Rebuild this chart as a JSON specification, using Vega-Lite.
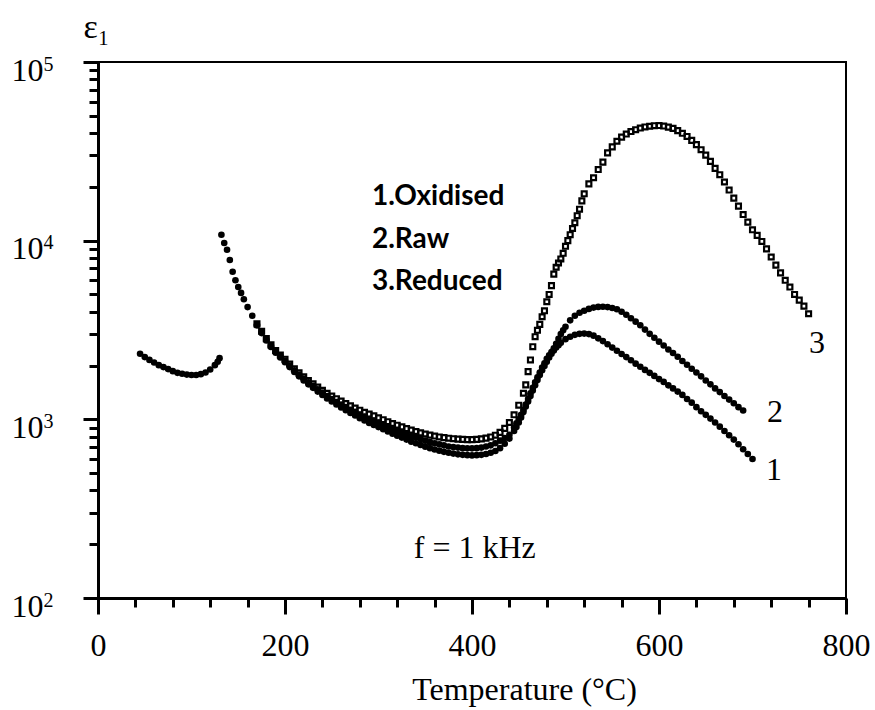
{
  "$schema": "https://vega.github.io/schema/vega-lite/v6.json",
  "width": 748,
  "height": 536,
  "autosize": {"type": "none"},
  "padding": {"left": 98, "top": 62, "right": 29, "bottom": 112},
  "background": "white",
  "config": {
    "view": {"stroke": "black", "strokeWidth": 2},
    "axis": {"grid": false, "domainColor": "black", "tickColor": "black", "labelColor": "black", "titleColor": "black"}
  },
  "datasets": {
    "pts": [
      {"s":2,"t":45,"e":2330},{"s":2,"t":50,"e":2230},{"s":2,"t":55,"e":2150},{"s":2,"t":60,"e":2080},{"s":2,"t":65,"e":2010},{"s":2,"t":70,"e":1960},{"s":2,"t":75,"e":1910},{"s":2,"t":80,"e":1860},{"s":2,"t":85,"e":1820},{"s":2,"t":90,"e":1800},{"s":2,"t":95,"e":1780},{"s":2,"t":100,"e":1770},{"s":2,"t":105,"e":1770},{"s":2,"t":110,"e":1790},{"s":2,"t":115,"e":1830},{"s":2,"t":120,"e":1900},{"s":2,"t":125,"e":2010},{"s":2,"t":128,"e":2100},{"s":2,"t":130,"e":2200},
      {"s":2,"t":132,"e":10800},{"s":2,"t":135,"e":9700},{"s":2,"t":138,"e":8900},{"s":2,"t":141,"e":7800},{"s":2,"t":144,"e":6700},{"s":2,"t":147,"e":6000},{"s":2,"t":150,"e":5500},{"s":2,"t":153,"e":5100},{"s":2,"t":156,"e":4700},{"s":2,"t":160,"e":4250},{"s":2,"t":165,"e":3800},{"s":2,"t":170,"e":3400},{"s":2,"t":175,"e":3080},{"s":2,"t":180,"e":2800},{"s":2,"t":185,"e":2580},{"s":2,"t":190,"e":2400},{"s":2,"t":195,"e":2260},
      {"s":2,"t":200,"e":2130},{"s":2,"t":205,"e":2000},{"s":2,"t":210,"e":1880},{"s":2,"t":215,"e":1780},{"s":2,"t":220,"e":1690},{"s":2,"t":225,"e":1610},{"s":2,"t":230,"e":1540},{"s":2,"t":235,"e":1470},{"s":2,"t":240,"e":1410},{"s":2,"t":245,"e":1350},{"s":2,"t":250,"e":1300},{"s":2,"t":255,"e":1250},{"s":2,"t":260,"e":1210},{"s":2,"t":265,"e":1170},{"s":2,"t":270,"e":1130},{"s":2,"t":275,"e":1100},{"s":2,"t":280,"e":1065},{"s":2,"t":285,"e":1035},{"s":2,"t":290,"e":1005},{"s":2,"t":295,"e":980},{"s":2,"t":300,"e":955},{"s":2,"t":305,"e":930},{"s":2,"t":310,"e":905},{"s":2,"t":315,"e":885},{"s":2,"t":320,"e":865},{"s":2,"t":325,"e":845},{"s":2,"t":330,"e":825},{"s":2,"t":335,"e":805},{"s":2,"t":340,"e":790},{"s":2,"t":345,"e":775},{"s":2,"t":350,"e":760},{"s":2,"t":355,"e":745},{"s":2,"t":360,"e":735},{"s":2,"t":365,"e":725},{"s":2,"t":370,"e":715},{"s":2,"t":375,"e":705},{"s":2,"t":380,"e":700},{"s":2,"t":385,"e":695},{"s":2,"t":390,"e":690},{"s":2,"t":395,"e":688},{"s":2,"t":400,"e":688},{"s":2,"t":405,"e":690},{"s":2,"t":410,"e":695},{"s":2,"t":415,"e":705},{"s":2,"t":420,"e":715},{"s":2,"t":425,"e":735},{"s":2,"t":430,"e":760},{"s":2,"t":435,"e":785},{"s":2,"t":440,"e":820},{"s":2,"t":445,"e":900},{"s":2,"t":447.5,"e":950},{"s":2,"t":450,"e":1000},{"s":2,"t":452.5,"e":1060},{"s":2,"t":455,"e":1130},{"s":2,"t":457.5,"e":1210},{"s":2,"t":460,"e":1300},{"s":2,"t":462.5,"e":1400},{"s":2,"t":465,"e":1500},{"s":2,"t":467.5,"e":1610},{"s":2,"t":470,"e":1720},{"s":2,"t":472.5,"e":1830},{"s":2,"t":475,"e":1950},{"s":2,"t":477.5,"e":2060},{"s":2,"t":480,"e":2180},{"s":2,"t":482.5,"e":2280},{"s":2,"t":485,"e":2380},{"s":2,"t":487.5,"e":2500},{"s":2,"t":490,"e":2650},{"s":2,"t":492.5,"e":2820},{"s":2,"t":495,"e":3000},{"s":2,"t":497.5,"e":3150},{"s":2,"t":500,"e":3300},{"s":2,"t":505,"e":3580},{"s":2,"t":510,"e":3800},{"s":2,"t":515,"e":3950},{"s":2,"t":520,"e":4050},{"s":2,"t":525,"e":4150},{"s":2,"t":530,"e":4220},{"s":2,"t":535,"e":4260},{"s":2,"t":540,"e":4270},{"s":2,"t":545,"e":4250},{"s":2,"t":550,"e":4200},{"s":2,"t":555,"e":4130},{"s":2,"t":560,"e":4000},{"s":2,"t":565,"e":3850},{"s":2,"t":570,"e":3680},{"s":2,"t":575,"e":3520},{"s":2,"t":580,"e":3360},{"s":2,"t":585,"e":3180},{"s":2,"t":590,"e":3010},{"s":2,"t":595,"e":2860},{"s":2,"t":600,"e":2720},{"s":2,"t":605,"e":2590},{"s":2,"t":610,"e":2460},{"s":2,"t":615,"e":2350},{"s":2,"t":620,"e":2240},{"s":2,"t":625,"e":2120},{"s":2,"t":630,"e":2020},{"s":2,"t":635,"e":1920},{"s":2,"t":640,"e":1830},{"s":2,"t":645,"e":1740},{"s":2,"t":650,"e":1650},{"s":2,"t":655,"e":1570},{"s":2,"t":660,"e":1490},{"s":2,"t":665,"e":1420},{"s":2,"t":670,"e":1350},{"s":2,"t":675,"e":1290},{"s":2,"t":680,"e":1230},{"s":2,"t":685,"e":1170},{"s":2,"t":690,"e":1120},
      {"s":1,"t":170,"e":3350},{"s":1,"t":175,"e":3040},{"s":1,"t":180,"e":2760},{"s":1,"t":185,"e":2540},{"s":1,"t":190,"e":2360},{"s":1,"t":195,"e":2220},{"s":1,"t":200,"e":2090},{"s":1,"t":205,"e":1960},{"s":1,"t":210,"e":1840},{"s":1,"t":215,"e":1740},{"s":1,"t":220,"e":1650},{"s":1,"t":225,"e":1570},{"s":1,"t":230,"e":1500},{"s":1,"t":235,"e":1430},{"s":1,"t":240,"e":1370},{"s":1,"t":245,"e":1310},{"s":1,"t":250,"e":1260},{"s":1,"t":255,"e":1210},{"s":1,"t":260,"e":1165},{"s":1,"t":265,"e":1125},{"s":1,"t":270,"e":1085},{"s":1,"t":275,"e":1050},{"s":1,"t":280,"e":1015},{"s":1,"t":285,"e":985},{"s":1,"t":290,"e":955},{"s":1,"t":295,"e":930},{"s":1,"t":300,"e":905},{"s":1,"t":305,"e":880},{"s":1,"t":310,"e":855},{"s":1,"t":315,"e":830},{"s":1,"t":320,"e":810},{"s":1,"t":325,"e":790},{"s":1,"t":330,"e":770},{"s":1,"t":335,"e":750},{"s":1,"t":340,"e":735},{"s":1,"t":345,"e":718},{"s":1,"t":350,"e":703},{"s":1,"t":355,"e":690},{"s":1,"t":360,"e":678},{"s":1,"t":365,"e":668},{"s":1,"t":370,"e":658},{"s":1,"t":375,"e":650},{"s":1,"t":380,"e":643},{"s":1,"t":385,"e":637},{"s":1,"t":390,"e":633},{"s":1,"t":395,"e":630},{"s":1,"t":400,"e":628},{"s":1,"t":405,"e":630},{"s":1,"t":410,"e":633},{"s":1,"t":415,"e":640},{"s":1,"t":420,"e":650},{"s":1,"t":425,"e":665},{"s":1,"t":430,"e":690},{"s":1,"t":435,"e":730},{"s":1,"t":440,"e":780},{"s":1,"t":445,"e":860},{"s":1,"t":447.5,"e":905},{"s":1,"t":450,"e":960},{"s":1,"t":452.5,"e":1025},{"s":1,"t":455,"e":1100},{"s":1,"t":457.5,"e":1180},{"s":1,"t":460,"e":1260},{"s":1,"t":462.5,"e":1350},{"s":1,"t":465,"e":1450},{"s":1,"t":467.5,"e":1550},{"s":1,"t":470,"e":1660},{"s":1,"t":472.5,"e":1770},{"s":1,"t":475,"e":1880},{"s":1,"t":477.5,"e":1990},{"s":1,"t":480,"e":2100},{"s":1,"t":482.5,"e":2220},{"s":1,"t":485,"e":2330},{"s":1,"t":487.5,"e":2430},{"s":1,"t":490,"e":2520},{"s":1,"t":492.5,"e":2600},{"s":1,"t":495,"e":2680},{"s":1,"t":500,"e":2810},{"s":1,"t":505,"e":2900},{"s":1,"t":510,"e":2970},{"s":1,"t":515,"e":3010},{"s":1,"t":520,"e":3020},{"s":1,"t":525,"e":3000},{"s":1,"t":530,"e":2940},{"s":1,"t":535,"e":2840},{"s":1,"t":540,"e":2740},{"s":1,"t":545,"e":2630},{"s":1,"t":550,"e":2520},{"s":1,"t":555,"e":2420},{"s":1,"t":560,"e":2320},{"s":1,"t":565,"e":2230},{"s":1,"t":570,"e":2140},{"s":1,"t":575,"e":2050},{"s":1,"t":580,"e":1970},{"s":1,"t":585,"e":1890},{"s":1,"t":590,"e":1820},{"s":1,"t":595,"e":1750},{"s":1,"t":600,"e":1680},{"s":1,"t":605,"e":1620},{"s":1,"t":610,"e":1550},{"s":1,"t":615,"e":1490},{"s":1,"t":620,"e":1430},{"s":1,"t":625,"e":1370},{"s":1,"t":630,"e":1300},{"s":1,"t":635,"e":1240},{"s":1,"t":640,"e":1170},{"s":1,"t":645,"e":1110},{"s":1,"t":650,"e":1060},{"s":1,"t":655,"e":1010},{"s":1,"t":660,"e":960},{"s":1,"t":665,"e":910},{"s":1,"t":670,"e":860},{"s":1,"t":675,"e":815},{"s":1,"t":680,"e":770},{"s":1,"t":685,"e":725},{"s":1,"t":690,"e":680},{"s":1,"t":695,"e":640},{"s":1,"t":700,"e":600},
      {"s":3,"t":170,"e":3420},{"s":3,"t":175,"e":3110},{"s":3,"t":180,"e":2830},{"s":3,"t":185,"e":2610},{"s":3,"t":190,"e":2430},{"s":3,"t":195,"e":2290},{"s":3,"t":200,"e":2170},{"s":3,"t":205,"e":2040},{"s":3,"t":210,"e":1920},{"s":3,"t":215,"e":1820},{"s":3,"t":220,"e":1730},{"s":3,"t":225,"e":1650},{"s":3,"t":230,"e":1580},{"s":3,"t":235,"e":1515},{"s":3,"t":240,"e":1455},{"s":3,"t":245,"e":1400},{"s":3,"t":250,"e":1350},{"s":3,"t":255,"e":1305},{"s":3,"t":260,"e":1265},{"s":3,"t":265,"e":1225},{"s":3,"t":270,"e":1190},{"s":3,"t":275,"e":1155},{"s":3,"t":280,"e":1125},{"s":3,"t":285,"e":1095},{"s":3,"t":290,"e":1070},{"s":3,"t":295,"e":1045},{"s":3,"t":300,"e":1020},{"s":3,"t":305,"e":995},{"s":3,"t":310,"e":970},{"s":3,"t":315,"e":948},{"s":3,"t":320,"e":927},{"s":3,"t":325,"e":907},{"s":3,"t":330,"e":888},{"s":3,"t":335,"e":870},{"s":3,"t":340,"e":855},{"s":3,"t":345,"e":840},{"s":3,"t":350,"e":828},{"s":3,"t":355,"e":816},{"s":3,"t":360,"e":806},{"s":3,"t":365,"e":797},{"s":3,"t":370,"e":790},{"s":3,"t":375,"e":784},{"s":3,"t":380,"e":779},{"s":3,"t":385,"e":775},{"s":3,"t":390,"e":772},{"s":3,"t":395,"e":770},{"s":3,"t":400,"e":770},{"s":3,"t":405,"e":772},{"s":3,"t":410,"e":777},{"s":3,"t":415,"e":785},{"s":3,"t":420,"e":797},{"s":3,"t":425,"e":815},{"s":3,"t":430,"e":845},{"s":3,"t":435,"e":890},{"s":3,"t":440,"e":960},{"s":3,"t":445,"e":1060},{"s":3,"t":450,"e":1200},{"s":3,"t":455,"e":1400},{"s":3,"t":457.5,"e":1560},{"s":3,"t":460,"e":1850},{"s":3,"t":462.5,"e":2150},{"s":3,"t":465,"e":2550},{"s":3,"t":467.5,"e":2900},{"s":3,"t":470,"e":3150},{"s":3,"t":472.5,"e":3400},{"s":3,"t":475,"e":3750},{"s":3,"t":477.5,"e":4050},{"s":3,"t":480,"e":4550},{"s":3,"t":482.5,"e":5000},{"s":3,"t":485,"e":5600},{"s":3,"t":487.5,"e":6500},{"s":3,"t":490,"e":7100},{"s":3,"t":492.5,"e":7500},{"s":3,"t":495,"e":7900},{"s":3,"t":497.5,"e":8500},{"s":3,"t":500,"e":9300},{"s":3,"t":502.5,"e":10000},{"s":3,"t":505,"e":10800},{"s":3,"t":507.5,"e":11700},{"s":3,"t":510,"e":12600},{"s":3,"t":512.5,"e":13800},{"s":3,"t":515,"e":15000},{"s":3,"t":517.5,"e":16700},{"s":3,"t":520,"e":18300},{"s":3,"t":525,"e":20800},{"s":3,"t":530,"e":22500},{"s":3,"t":535,"e":25000},{"s":3,"t":540,"e":27500},{"s":3,"t":545,"e":31000},{"s":3,"t":550,"e":33500},{"s":3,"t":555,"e":36000},{"s":3,"t":560,"e":38000},{"s":3,"t":565,"e":39500},{"s":3,"t":570,"e":40800},{"s":3,"t":575,"e":41800},{"s":3,"t":580,"e":42700},{"s":3,"t":585,"e":43300},{"s":3,"t":590,"e":43700},{"s":3,"t":595,"e":44000},{"s":3,"t":600,"e":44100},{"s":3,"t":605,"e":43800},{"s":3,"t":610,"e":43200},{"s":3,"t":615,"e":42500},{"s":3,"t":620,"e":41300},{"s":3,"t":625,"e":39900},{"s":3,"t":630,"e":38300},{"s":3,"t":635,"e":36400},{"s":3,"t":640,"e":34500},{"s":3,"t":645,"e":32300},{"s":3,"t":650,"e":30100},{"s":3,"t":655,"e":27800},{"s":3,"t":660,"e":25400},{"s":3,"t":665,"e":23400},{"s":3,"t":670,"e":21300},{"s":3,"t":675,"e":19200},{"s":3,"t":680,"e":17300},{"s":3,"t":685,"e":15600},{"s":3,"t":690,"e":14000},{"s":3,"t":695,"e":12700},{"s":3,"t":700,"e":11500},{"s":3,"t":705,"e":10700},{"s":3,"t":710,"e":9900},{"s":3,"t":715,"e":9000},{"s":3,"t":720,"e":8100},{"s":3,"t":725,"e":7300},{"s":3,"t":730,"e":6600},{"s":3,"t":735,"e":6000},{"s":3,"t":740,"e":5500},{"s":3,"t":745,"e":5000},{"s":3,"t":750,"e":4650},{"s":3,"t":755,"e":4300},{"s":3,"t":760,"e":3900}
    ],
    "legend": [
      {"t": 293, "e": 15830, "txt": "1.Oxidised"},
      {"t": 293, "e": 9100, "txt": "2.Raw"},
      {"t": 293, "e": 5297, "txt": "3.Reduced"}
    ],
    "notes": [
      {"t": 769, "e": 2350, "txt": "3"},
      {"t": 724, "e": 966, "txt": "2"},
      {"t": 723, "e": 458, "txt": "1"},
      {"t": 403, "e": 167.5, "txt": "f = 1 kHz"}
    ]
  },
  "resolve": {"axis": {"x": "independent", "y": "independent"}},
  "layer": [
    {
      "data": {"name": "pts"},
      "transform": [{"filter": "datum.s != 3"}],
      "mark": {"type": "point", "shape": "circle", "filled": true, "color": "black", "size": 44, "opacity": 1},
      "encoding": {
        "x": {"field": "t", "type": "quantitative", "scale": {"domain": [0, 800], "nice": false, "zero": false},
          "axis": {"orient": "bottom", "values": [0, 200, 400, 600, 800], "format": "d", "tickSize": 16, "tickWidth": 3, "domainWidth": 3,
            "labelFont": "Liberation Serif", "labelFontSize": 32, "labelBaseline": "alphabetic", "labelPadding": 41, "labelFlush": false,
            "title": "Temperature (°C)", "titleFont": "Liberation Serif", "titleFontSize": 32, "titleFontWeight": "normal",
            "titleX": 426, "titleY": 101, "titleBaseline": "alphabetic", "titleAlign": "center"}},
        "y": {"field": "e", "type": "quantitative", "scale": {"type": "log", "domain": [100, 100000], "nice": false},
          "axis": {"orient": "left", "values": [100, 1000, 10000, 100000], "labelExpr": "'10'",
            "tickSize": 15, "tickWidth": 3, "domainWidth": 3,
            "labelFont": "Liberation Serif", "labelFontSize": 32, "labelBaseline": "alphabetic", "labelOffset": 18, "labelPadding": 40, "labelFlush": false,
            "title": "ε₁", "titleFont": "Liberation Serif", "titleFontSize": 34, "titleFontWeight": "normal", "titleAngle": 0,
            "titleX": -15, "titleY": -25, "titleAlign": "left", "titleBaseline": "alphabetic"}}
      }
    },
    {
      "data": {"name": "pts"},
      "transform": [{"filter": "datum.s == 3"}],
      "mark": {"type": "point", "shape": "square", "filled": false, "color": "black", "size": 24, "strokeWidth": 2.2, "opacity": 1},
      "encoding": {
        "x": {"field": "t", "type": "quantitative",
          "axis": {"orient": "bottom", "values": [40, 80, 120, 160, 240, 280, 320, 360, 440, 480, 520, 560, 640, 680, 720, 760], "labels": false, "domain": false, "tickSize": 9, "tickWidth": 3, "title": null}},
        "y": {"field": "e", "type": "quantitative",
          "axis": {"orient": "left", "values": [200, 300, 400, 500, 600, 700, 800, 900, 2000, 3000, 4000, 5000, 6000, 7000, 8000, 9000, 20000, 30000, 40000, 50000, 60000, 70000, 80000, 90000], "labels": false, "domain": false, "tickSize": 9, "tickWidth": 3, "title": null}}
      }
    },
    {
      "data": {"name": "legend"},
      "mark": {"type": "text", "font": "Lato", "fontWeight": "bold", "fontSize": 28, "align": "left", "baseline": "alphabetic", "color": "black"},
      "encoding": {
        "x": {"field": "t", "type": "quantitative", "axis": null},
        "y": {"field": "e", "type": "quantitative",
          "axis": {"orient": "left", "values": [100, 1000, 10000, 100000], "labelExpr": "format(log(datum.value) / log(10), '.0f')",
            "ticks": false, "tickSize": 0, "domain": false, "title": null,
            "labelFont": "Liberation Serif", "labelFontSize": 20, "labelAlign": "right", "labelBaseline": "alphabetic", "labelOffset": 8, "labelPadding": 45, "labelFlush": false}},
        "text": {"field": "txt"}
      }
    },
    {
      "data": {"name": "notes"},
      "mark": {"type": "text", "font": "Liberation Serif", "fontSize": 32, "align": "center", "baseline": "alphabetic", "color": "black"},
      "encoding": {
        "x": {"field": "t", "type": "quantitative", "axis": null},
        "y": {"field": "e", "type": "quantitative", "axis": null},
        "text": {"field": "txt"}
      }
    }
  ]
}
